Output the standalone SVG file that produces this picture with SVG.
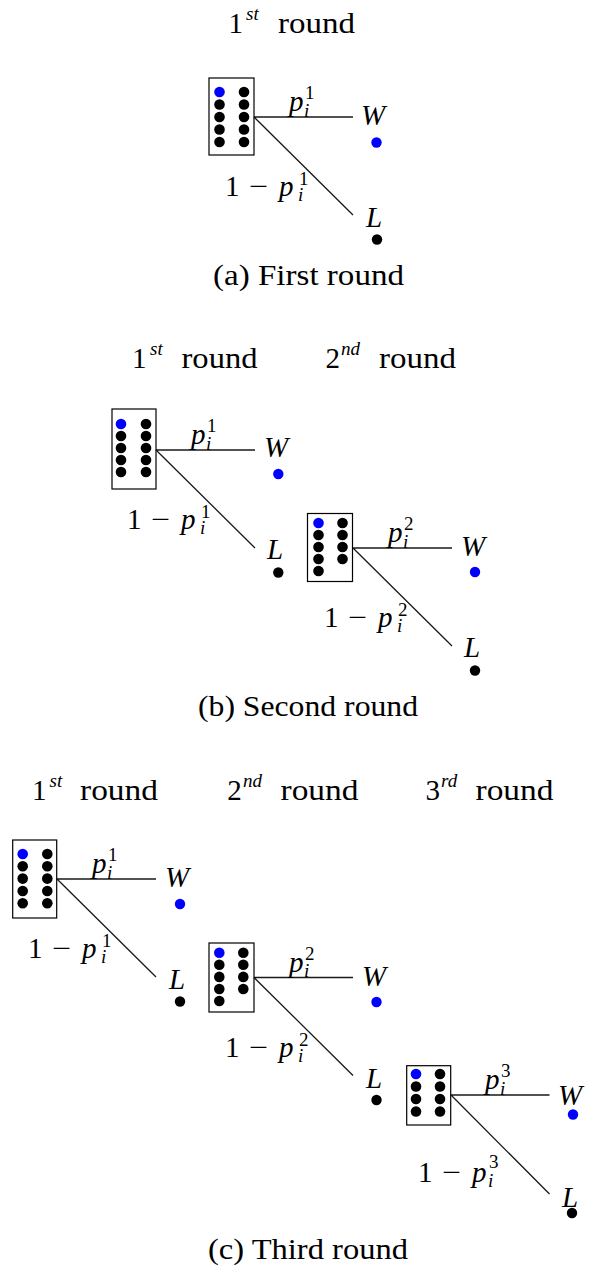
<svg xmlns="http://www.w3.org/2000/svg" width="589" height="1271" viewBox="0 0 589 1271" font-family="Liberation Serif, DejaVu Serif, serif">
<style>
.t{font-size:29px;fill:#000}
.i{font-style:italic}
.s{font-size:19px}
.box{fill:none;stroke:#000;stroke-width:1.2}
.e{fill:none;stroke:#1a1a1a;stroke-width:1.3}
.k{fill:#000}
.bl{fill:#0000ff}
</style>
<rect width="589" height="1271" fill="#fff"/>

<!-- ===== Titles and captions ===== -->
<g id="titles" font-family="Liberation Serif, serif">
  <text class="t" x="228.5" y="33">1</text><text class="t i s" x="246" y="20">st</text><text class="t" x="278" y="33" textLength="77" lengthAdjust="spacingAndGlyphs">round</text>
  <text class="t" x="213" y="285" textLength="191" lengthAdjust="spacingAndGlyphs">(a) First round</text>

  <text class="t" x="132" y="368">1</text><text class="t i s" x="150" y="355">st</text><text class="t" x="181.5" y="368" textLength="76" lengthAdjust="spacingAndGlyphs">round</text>
  <text class="t" x="325.5" y="368">2</text><text class="t i s" x="341" y="355">nd</text><text class="t" x="379" y="368" textLength="77" lengthAdjust="spacingAndGlyphs">round</text>
  <text class="t" x="198" y="716" textLength="220" lengthAdjust="spacingAndGlyphs">(b) Second round</text>

  <text class="t" x="32" y="800">1</text><text class="t i s" x="49.5" y="787">st</text><text class="t" x="80" y="800" textLength="78" lengthAdjust="spacingAndGlyphs">round</text>
  <text class="t" x="227.3" y="800">2</text><text class="t i s" x="243" y="787">nd</text><text class="t" x="280.5" y="800" textLength="78" lengthAdjust="spacingAndGlyphs">round</text>
  <text class="t" x="425.5" y="800">3</text><text class="t i s" x="441" y="787">rd</text><text class="t" x="475.5" y="800" textLength="78" lengthAdjust="spacingAndGlyphs">round</text>
  <text class="t" x="208" y="1259" textLength="200" lengthAdjust="spacingAndGlyphs">(c) Third round</text>
</g>

<!-- ===== Connectors ===== -->
<g id="connectors">
  <path class="e" d="M254 117H353M254 117L353 215"/>
  <path class="e" d="M156 450H255M156 450L255 548"/>
  <path class="e" d="M353 548H452M353 548L452 646"/>
  <path class="e" d="M57 879H156M57 879L156 977"/>
  <path class="e" d="M254 977.5H353M254 977.5L353 1075.5"/>
  <path class="e" d="M451 1095H549.5M451 1095L549.5 1194"/>
</g>

<!-- ===== Edge labels ===== -->
<g id="edge-labels" font-family="Liberation Serif, serif">
  <!-- (a) -->
  <text class="t i" x="289" y="111">p</text><text class="t s" x="305" y="99">1</text><text class="t i s" x="304" y="116.5">i</text>
  <text class="t" x="225" y="196">1</text><text class="t" x="249" y="196" textLength="19" lengthAdjust="spacingAndGlyphs">−</text><text class="t i" x="279" y="196">p</text><text class="t s" x="299" y="185">1</text><text class="t i s" x="298" y="201">i</text>
  <!-- (b) round 1 -->
  <text class="t i" x="191" y="444">p</text><text class="t s" x="207" y="432">1</text><text class="t i s" x="206" y="449.5">i</text>
  <text class="t" x="127" y="529">1</text><text class="t" x="151" y="529" textLength="19" lengthAdjust="spacingAndGlyphs">−</text><text class="t i" x="181" y="529">p</text><text class="t s" x="201" y="518">1</text><text class="t i s" x="200" y="534">i</text>
  <!-- (b) round 2 -->
  <text class="t i" x="388" y="542">p</text><text class="t s" x="404" y="530">2</text><text class="t i s" x="403" y="547.5">i</text>
  <text class="t" x="324" y="627">1</text><text class="t" x="348" y="627" textLength="19" lengthAdjust="spacingAndGlyphs">−</text><text class="t i" x="378" y="627">p</text><text class="t s" x="398" y="616">2</text><text class="t i s" x="397" y="632">i</text>
  <!-- (c) round 1 -->
  <text class="t i" x="92" y="873">p</text><text class="t s" x="108" y="861">1</text><text class="t i s" x="107" y="878.5">i</text>
  <text class="t" x="28" y="958">1</text><text class="t" x="52" y="958" textLength="19" lengthAdjust="spacingAndGlyphs">−</text><text class="t i" x="82" y="958">p</text><text class="t s" x="102" y="947">1</text><text class="t i s" x="101" y="963">i</text>
  <!-- (c) round 2 -->
  <text class="t i" x="289" y="971.5">p</text><text class="t s" x="305" y="959.5">2</text><text class="t i s" x="304" y="977">i</text>
  <text class="t" x="225" y="1056.5">1</text><text class="t" x="249" y="1056.5" textLength="19" lengthAdjust="spacingAndGlyphs">−</text><text class="t i" x="279" y="1056.5">p</text><text class="t s" x="299" y="1045.5">2</text><text class="t i s" x="298" y="1061.5">i</text>
  <!-- (c) round 3 -->
  <text class="t i" x="485" y="1089">p</text><text class="t s" x="501" y="1077">3</text><text class="t i s" x="500" y="1094.5">i</text>
  <text class="t" x="418" y="1182">1</text><text class="t" x="442" y="1182" textLength="19" lengthAdjust="spacingAndGlyphs">−</text><text class="t i" x="472" y="1182">p</text><text class="t s" x="489" y="1168">3</text><text class="t i s" x="488" y="1187">i</text>
</g>

<!-- ===== (a) First round ===== -->
<g id="urn-a1">
  <rect class="box" x="209" y="78" width="45" height="77"/>
  <circle class="bl" cx="219.5" cy="92" r="5.3"/><circle class="k" cx="219.5" cy="104.5" r="5.3"/><circle class="k" cx="219.5" cy="117" r="5.3"/><circle class="k" cx="219.5" cy="129.5" r="5.3"/><circle class="k" cx="219.5" cy="142" r="5.3"/>
  <circle class="k" cx="244" cy="92" r="5.3"/><circle class="k" cx="244" cy="104.5" r="5.3"/><circle class="k" cx="244" cy="117" r="5.3"/><circle class="k" cx="244" cy="129.5" r="5.3"/><circle class="k" cx="244" cy="142" r="5.3"/>
</g>
<g id="win-a1" font-family="Liberation Serif, serif"><text class="t i" x="361" y="125">W</text><circle class="bl" cx="376.5" cy="142.5" r="5.2"/></g>
<g id="lose-a1" font-family="Liberation Serif, serif"><text class="t i" x="366" y="227">L</text><circle class="k" cx="377" cy="239.5" r="5.2"/></g>

<!-- ===== (b) Second round ===== -->
<g id="urn-b1">
  <rect class="box" x="112" y="409" width="44" height="80"/>
  <circle class="bl" cx="121" cy="424" r="5.3"/><circle class="k" cx="121" cy="436" r="5.3"/><circle class="k" cx="121" cy="448" r="5.3"/><circle class="k" cx="121" cy="460" r="5.3"/><circle class="k" cx="121" cy="472" r="5.3"/>
  <circle class="k" cx="146" cy="424" r="5.3"/><circle class="k" cx="146" cy="436" r="5.3"/><circle class="k" cx="146" cy="448" r="5.3"/><circle class="k" cx="146" cy="460" r="5.3"/><circle class="k" cx="146" cy="472" r="5.3"/>
</g>
<g id="win-b1" font-family="Liberation Serif, serif"><text class="t i" x="264" y="457">W</text><circle class="bl" cx="278.3" cy="474" r="5.2"/></g>
<g id="lose-b1" font-family="Liberation Serif, serif"><text class="t i" x="267" y="559">L</text><circle class="k" cx="278.3" cy="572.5" r="5.2"/></g>

<g id="urn-b2">
  <rect class="box" x="307.5" y="513.5" width="45" height="68"/>
  <circle class="bl" cx="318.5" cy="523" r="5.3"/><circle class="k" cx="318.5" cy="535" r="5.3"/><circle class="k" cx="318.5" cy="547" r="5.3"/><circle class="k" cx="318.5" cy="559" r="5.3"/><circle class="k" cx="318.5" cy="571" r="5.3"/>
  <circle class="k" cx="342.5" cy="523" r="5.3"/><circle class="k" cx="342.5" cy="535" r="5.3"/><circle class="k" cx="342.5" cy="547" r="5.3"/><circle class="k" cx="342.5" cy="559" r="5.3"/>
</g>
<g id="win-b2" font-family="Liberation Serif, serif"><text class="t i" x="461" y="556">W</text><circle class="bl" cx="475" cy="572" r="5.2"/></g>
<g id="lose-b2" font-family="Liberation Serif, serif"><text class="t i" x="464" y="657">L</text><circle class="k" cx="475" cy="670.5" r="5.2"/></g>

<!-- ===== (c) Third round ===== -->
<g id="urn-c1">
  <rect class="box" x="12.7" y="840" width="44" height="78"/>
  <circle class="bl" cx="22.7" cy="854" r="5.3"/><circle class="k" cx="22.7" cy="866.3" r="5.3"/><circle class="k" cx="22.7" cy="878.6" r="5.3"/><circle class="k" cx="22.7" cy="891" r="5.3"/><circle class="k" cx="22.7" cy="903.3" r="5.3"/>
  <circle class="k" cx="47.3" cy="854" r="5.3"/><circle class="k" cx="47.3" cy="866.3" r="5.3"/><circle class="k" cx="47.3" cy="878.6" r="5.3"/><circle class="k" cx="47.3" cy="891" r="5.3"/><circle class="k" cx="47.3" cy="903.3" r="5.3"/>
</g>
<g id="win-c1" font-family="Liberation Serif, serif"><text class="t i" x="165" y="887">W</text><circle class="bl" cx="180" cy="904" r="5.2"/></g>
<g id="lose-c1" font-family="Liberation Serif, serif"><text class="t i" x="169" y="989">L</text><circle class="k" cx="180" cy="1001.5" r="5.2"/></g>

<g id="urn-c2">
  <rect class="box" x="209" y="943" width="45" height="69"/>
  <circle class="bl" cx="219.3" cy="952.7" r="5.3"/><circle class="k" cx="219.3" cy="964.8" r="5.3"/><circle class="k" cx="219.3" cy="976.9" r="5.3"/><circle class="k" cx="219.3" cy="989" r="5.3"/><circle class="k" cx="219.3" cy="1001" r="5.3"/>
  <circle class="k" cx="243.3" cy="952.7" r="5.3"/><circle class="k" cx="243.3" cy="964.8" r="5.3"/><circle class="k" cx="243.3" cy="976.9" r="5.3"/><circle class="k" cx="243.3" cy="989" r="5.3"/>
</g>
<g id="win-c2" font-family="Liberation Serif, serif"><text class="t i" x="362" y="985.5">W</text><circle class="bl" cx="376.5" cy="1002" r="5.2"/></g>
<g id="lose-c2" font-family="Liberation Serif, serif"><text class="t i" x="366" y="1087.5">L</text><circle class="k" cx="376.5" cy="1100" r="5.2"/></g>

<g id="urn-c3">
  <rect class="box" x="406.7" y="1065.7" width="44" height="59.3"/>
  <circle class="bl" cx="416" cy="1074" r="5.3"/><circle class="k" cx="416" cy="1086.5" r="5.3"/><circle class="k" cx="416" cy="1099" r="5.3"/><circle class="k" cx="416" cy="1111.5" r="5.3"/>
  <circle class="k" cx="440" cy="1074" r="5.3"/><circle class="k" cx="440" cy="1086.5" r="5.3"/><circle class="k" cx="440" cy="1099" r="5.3"/><circle class="k" cx="440" cy="1111.5" r="5.3"/>
</g>
<g id="win-c3" font-family="Liberation Serif, serif"><text class="t i" x="558" y="1105">W</text><circle class="bl" cx="573" cy="1114.5" r="5.2"/></g>
<g id="lose-c3" font-family="Liberation Serif, serif"><text class="t i" x="562" y="1206.5">L</text><circle class="k" cx="572" cy="1213" r="5.2"/></g>
</svg>
